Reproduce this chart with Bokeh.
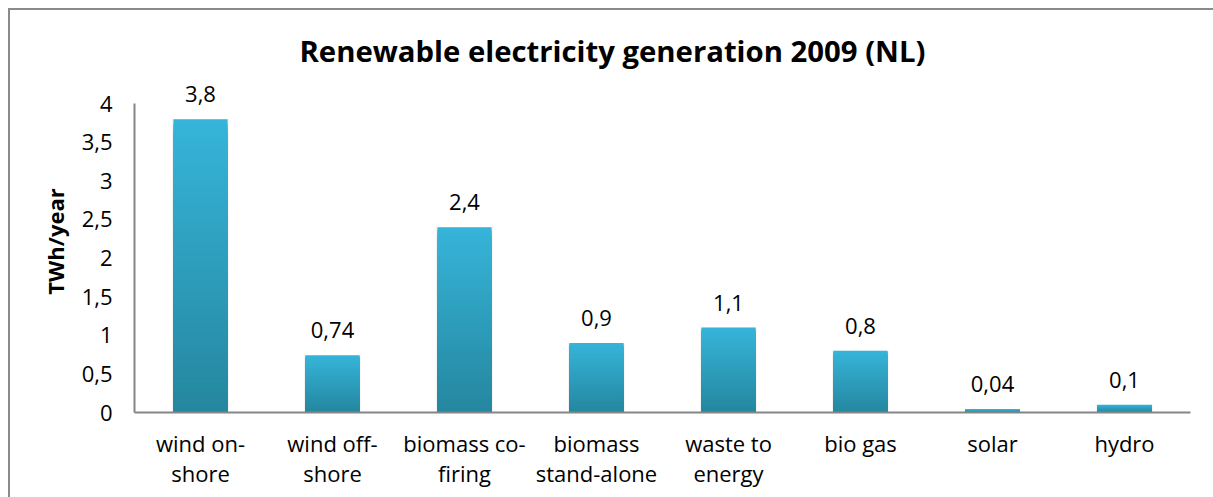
from bokeh.plotting import figure
from bokeh.models import Range1d, FixedTicker, CustomJSTickFormatter, Title
from bokeh.embed import file_html
from bokeh.resources import INLINE
from bokeh.core.properties import value

# Renewable electricity generation in the Netherlands, 2009 (TWh/year)
categories = ["wind on-\nshore", "wind off-\nshore", "biomass co-\nfiring",
              "biomass\nstand-alone", "waste to\nenergy", "bio gas", "solar", "hydro"]
generation = [3.8, 0.74, 2.4, 0.9, 1.1, 0.8, 0.04, 0.1]
y_ticks = [0, 0.5, 1, 1.5, 2, 2.5, 3, 3.5, 4]

FONT = "Open Sans"
AXIS_GREY = "#868686"

# the value axis runs 0..4; the range is a little taller to leave room for value labels
p = figure(
    x_range=categories, y_range=Range1d(0, 4.43),
    width=1203, height=487,
    min_border_left=124, min_border_right=25, min_border_top=60, min_border_bottom=87,
    output_backend="svg", toolbar_location=None,
    background_fill_color="white", border_fill_color="white",
    outline_line_color=None,
    styles={"margin-left": "8px", "margin-top": "8px",
            "box-sizing": "content-box", "overflow": "hidden",
            "border-left": "2px solid #8a8a8a", "border-top": "2px solid #8a8a8a"},
)

title = Title(text="Renewable electricity generation 2009 (NL)", align="left", offset=165,
              text_font=FONT, text_font_size="29.3px", text_font_style="bold",
              text_color="black", standoff=0)
p.add_layout(title, "above")

p.xgrid.grid_line_color = None
p.ygrid.grid_line_color = None

# vertical gradient on each bar: overlapping bars, lighter full-height first,
# then progressively shorter and darker ones on top
def hex_to_rgb(h):
    h = h.lstrip("#")
    return tuple(int(h[i:i + 2], 16) for i in (0, 2, 4))

bottom_rgb = hex_to_rgb("#25879f")
top_rgb = hex_to_rgb("#36b4d9")
N = 60
xs, tops, colors = [], [], []
for k in range(N):
    t = 1 - k / (N - 1)
    rgb = tuple(round(b + (a - b) * t) for a, b in zip(top_rgb, bottom_rgb))
    for cat, v in zip(categories, generation):
        xs.append(cat)
        tops.append(v * (N - k) / N)
        colors.append("#%02x%02x%02x" % rgb)

# soft shadow behind bars
p.vbar(x=categories, top=generation, bottom=0, width=0.425,
       fill_color="#c8c8c8", fill_alpha=0.35, line_color=None)
p.vbar(x=xs, bottom=0, top=tops, width=0.41, fill_color=colors, line_color=None)

labels = [str(v).replace(".", ",") for v in generation]
p.text(x=categories, y=generation, text=labels, y_offset=-17,
       text_align="center", text_baseline="bottom",
       text_font=value(FONT), text_font_size="22px", text_color="black")

# y axis
p.yaxis.ticker = FixedTicker(ticks=y_ticks)
p.yaxis.bounds = (0, 4)
p.yaxis.formatter = CustomJSTickFormatter(code="return tick.toString().replace('.', ',');")
p.yaxis.axis_label = "TWh/year"
p.yaxis.axis_label_text_font = FONT
p.yaxis.axis_label_text_font_style = "bold"
p.yaxis.axis_label_text_font_size = "22px"
p.yaxis.axis_label_text_color = "black"
p.yaxis.axis_label_standoff = 9

for ax in (p.xaxis, p.yaxis):
    ax.axis_line_color = AXIS_GREY
    ax.axis_line_width = 2
    ax.major_tick_line_color = None
    ax.minor_tick_line_color = None
    ax.major_tick_in = 0
    ax.major_tick_out = 0
    ax.major_label_text_font = FONT
    ax.major_label_text_font_size = "22px"
    ax.major_label_text_color = "black"

p.yaxis.major_label_standoff = 22
p.xaxis.major_label_standoff = 15
p.xaxis.major_label_text_line_height = 1.0
p.xaxis.major_label_orientation = "horizontal"

html = file_html(p, INLINE)
# keep the page from showing scrollbars
html = html.replace("</head>", "<style>html, body { overflow: hidden; }</style>\n</head>", 1)
open("out.html", "w").write(html)
